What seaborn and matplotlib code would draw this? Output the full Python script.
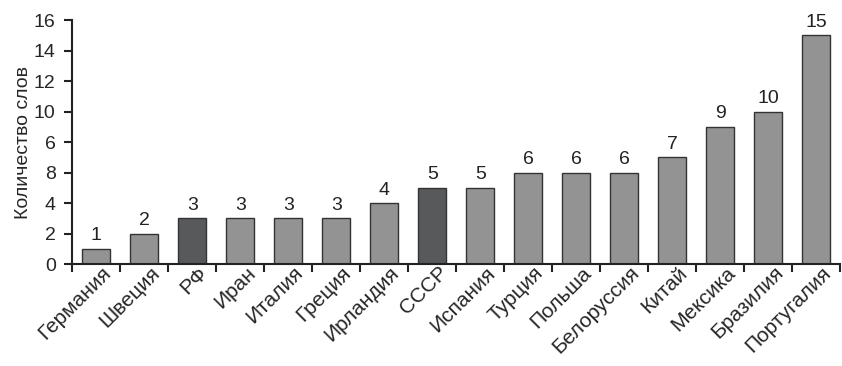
import matplotlib
matplotlib.use("Agg")
import matplotlib.pyplot as plt
import matplotlib.transforms as mtransforms
import seaborn as sns
import pandas as pd
import numpy as np

countries = ["Германия", "Швеция", "РФ", "Иран", "Италия", "Греция", "Ирландия", "СССР",
             "Испания", "Турция", "Польша", "Белоруссия", "Китай", "Мексика", "Бразилия", "Португалия"]
words = [1, 2, 3, 3, 3, 3, 4, 5, 5, 6, 6, 6, 7, 9, 10, 15]
highlight = ["РФ", "СССР"]
# the source chart has the 6 and 8 tick labels swapped; kept as in the original
ytick_pos = [0, 2, 4, 6, 8, 10, 12, 14, 16]
ytick_labels = ["0", "2", "4", "8", "6", "10", "12", "14", "16"]

sns.set_style("ticks")
plt.rcParams["font.family"] = ["Liberation Sans", "DejaVu Sans"]

df = pd.DataFrame({"country": countries, "words": words})
palette = {c: ("#58595b" if c in highlight else "#939393") for c in countries}

fig, ax = plt.subplots(figsize=(8.42, 3.66), dpi=100)
sns.barplot(data=df, x="country", y="words", hue="country", palette=palette,
            width=0.58, edgecolor="#333333", linewidth=1.0, legend=False, ax=ax, saturation=1)

for i, v in enumerate(words):
    ax.text(i, v + 0.3, str(v), ha="center", va="bottom", fontsize=14, color="#222222")

ax.set_xlim(-0.5, len(countries) - 0.5)
ax.set_ylim(0, 16)
ax.set_yticks(ytick_pos)
ax.set_yticklabels(ytick_labels, fontsize=14)
ax.set_ylabel("Количество слов", fontsize=14, labelpad=1)
ax.set_xlabel("")

ax.set_xticks(np.arange(len(countries)))
ax.set_xticklabels(countries, rotation=45, ha="right", va="center",
                   rotation_mode="anchor", fontsize=15)
ax.tick_params(axis="x", which="major", length=0, pad=4)
offset = mtransforms.ScaledTranslation(12 / 100, 0, fig.dpi_scale_trans)
for lbl in ax.get_xticklabels():
    lbl.set_transform(lbl.get_transform() + offset)
ax.set_xticks(np.arange(len(countries) + 1) - 0.5, minor=True)
ax.tick_params(axis="x", which="minor", length=6, width=1.5, direction="out", color="#222222")
ax.tick_params(axis="y", length=6, width=1.5, color="#222222", pad=6)

sns.despine(ax=ax)
for s in ["left", "bottom"]:
    ax.spines[s].set_linewidth(1.5)
    ax.spines[s].set_color("#222222")

fig.subplots_adjust(left=0.086, right=0.998, top=0.945, bottom=0.278)
fig.savefig("out.png", dpi=100)
